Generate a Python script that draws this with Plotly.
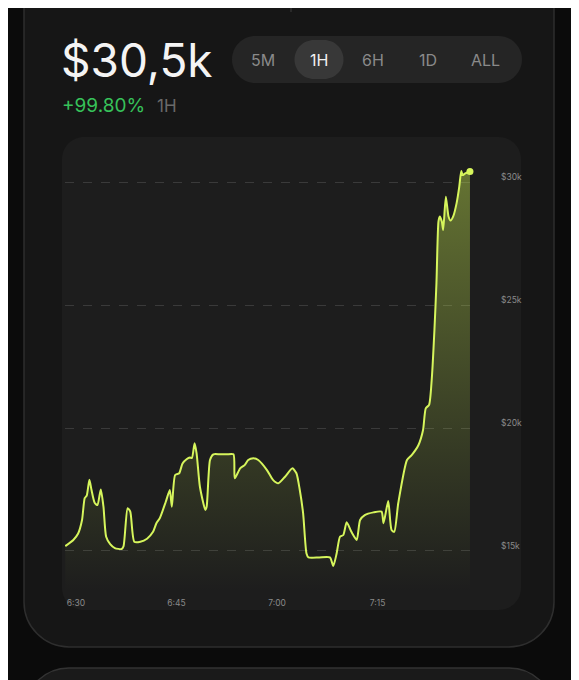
import plotly.graph_objects as go

# ---------------- data ----------------
minutes_after_6 = [28.4, 29.6, 30.3, 30.9, 31.3, 31.6, 32.0, 32.3, 32.8, 33.2, 33.7, 34.1, 34.5, 35.1, 35.8,
                   36.8, 37.1, 37.7, 38.1, 38.7, 39.6, 40.6, 41.5, 42.0, 42.5, 43.4, 44.0, 44.3, 44.8, 45.4,
                   45.9, 46.5, 47.0, 47.3, 47.7, 48.0, 48.5, 49.3, 49.5, 50.0, 50.5, 51.5, 52.5, 53.5, 53.7,
                   54.5, 55.2, 55.7, 56.5, 57.2, 58.5, 59.4, 60.2, 61.2, 62.3, 62.9, 63.4, 63.9, 64.4, 64.7,
                   66.3, 67.9, 68.4, 68.9, 69.4, 69.9, 70.4, 71.1, 71.9, 72.4, 73.1, 74.4, 75.6, 75.9, 76.6,
                   77.1, 77.5, 78.1, 79.4, 80.1, 81.1, 81.8, 82.2, 82.7, 83.1, 83.5, 83.8, 84.1, 84.3, 84.6,
                   84.8, 85.2, 85.6, 85.9, 86.3, 86.8, 87.2, 87.5, 87.7, 88.1, 88.8]
values_usd = [15200, 15450, 15700, 16260, 17150, 17250, 17900, 17500, 16950, 16870, 17500, 16800, 15580, 15280, 15120,
              15080, 15200, 16740, 16600, 15380, 15380, 15500, 15780, 16130, 16330, 17000, 17480, 16800, 18090, 18160,
              18560, 18730, 18800, 18780, 19380, 18970, 17600, 16670, 16800, 18700, 18930, 18930, 18930, 18930, 17960,
              18360, 18500, 18700, 18770, 18700, 18290, 17890, 17750, 18020, 18360, 18160, 17480, 16530, 14900, 14740,
              14740, 14740, 14390, 14900, 15580, 15650, 16170, 15780, 15450, 16260, 16460, 16570, 16600, 16130, 17030,
              15850, 15780, 16950, 18700, 18900, 19300, 19920, 20800, 20940, 22000, 24000, 25900, 28400, 28600, 28390,
              28050, 29400, 28600, 28430, 28600, 29130, 29800, 30450, 30280, 30350, 30430]

x_tick_vals = [30, 45, 60, 75]
x_tick_text = ["6:30", "6:45", "7:00", "7:15"]
y_tick_vals = [15000, 20000, 25000, 30000]
y_tick_text = ["$15k", "$20k", "$25k", "$30k"]

price_label = "$30,5k"
change_label = "+99.80%"
period_label = "1H"
range_buttons = ["5M", "1H", "6H", "1D", "ALL"]
selected_button = "1H"

# ---------------- layout geometry (window pixels) ----------------
W, H = 579, 680
OFF = 8  # page body margin
PL, PR, PT, PB = 65, 470, 150, 592
x_range = [28.358, 88.806]
y_range = [13333, 31301]

LINE = "#d6f55c"
FONT = "Inter"


def px(x):
    return (x - PL) / (PR - PL)


def py(y):
    return (PB - y) / (PB - PT)


def rrect(x0, y0, x1, y1, r):
    k = 0.5523 * r
    pts = [
        f"M{px(x0 + r)},{py(y0)}",
        f"L{px(x1 - r)},{py(y0)}",
        f"C{px(x1 - r + k)},{py(y0)} {px(x1)},{py(y0 + r - k)} {px(x1)},{py(y0 + r)}",
        f"L{px(x1)},{py(y1 - r)}",
        f"C{px(x1)},{py(y1 - r + k)} {px(x1 - r + k)},{py(y1)} {px(x1 - r)},{py(y1)}",
        f"L{px(x0 + r)},{py(y1)}",
        f"C{px(x0 + r - k)},{py(y1)} {px(x0)},{py(y1 - r + k)} {px(x0)},{py(y1 - r)}",
        f"L{px(x0)},{py(y0 + r)}",
        f"C{px(x0)},{py(y0 + r - k)} {px(x0 + r - k)},{py(y0)} {px(x0 + r)},{py(y0)}",
        "Z",
    ]
    return " ".join(pts)


fig = go.Figure()

fig.add_trace(go.Scatter(
    x=minutes_after_6, y=values_usd, mode="lines",
    line=dict(color=LINE, width=2, shape="spline", smoothing=0.6),
    fill="tozeroy",
    fillgradient=dict(type="vertical", start=y_range[0], stop=30500,
                      colorscale=[[0, "rgba(200,235,80,0.0)"], [1, "rgba(200,235,80,0.42)"]]),
    hoverinfo="skip", showlegend=False,
))
fig.add_trace(go.Scatter(
    x=[minutes_after_6[-1]], y=[values_usd[-1]], mode="markers",
    marker=dict(color=LINE, size=7), cliponaxis=False,
    hoverinfo="skip", showlegend=False,
))

shapes = []
# top edge + small divider
shapes.append(dict(type="line", xref="paper", yref="paper", x0=px(-20), x1=px(W + 20), y0=py(0.5), y1=py(0.5),
                   line=dict(color="#4a4a4a", width=1), layer="below"))
# main card
shapes.append(dict(type="path", xref="paper", yref="paper", path=rrect(24, -60, 554, 647, 45),
                   fillcolor="#161616", line=dict(color="#2e2e2e", width=1.5), layer="below"))
shapes.append(dict(type="line", xref="paper", yref="paper", x0=px(291), x1=px(291), y0=py(0), y1=py(12),
                   line=dict(color="#3c3c3c", width=1), layer="below"))
# second card
shapes.append(dict(type="path", xref="paper", yref="paper", path=rrect(24, 668, 554, 760, 45),
                   fillcolor="#1a1a1a", line=dict(color="#333333", width=1.5), layer="below"))
# chart panel
shapes.append(dict(type="path", xref="paper", yref="paper", path=rrect(62, 137, 521, 610, 22),
                   fillcolor="#1d1d1d", line=dict(width=0), layer="below"))
# range selector pill
shapes.append(dict(type="path", xref="paper", yref="paper", path=rrect(232, 36, 522, 83, 23.5),
                   fillcolor="#252525", line=dict(width=0), layer="below"))
btn_x = [263, 319, 373, 428, 486]
sel_i = range_buttons.index(selected_button)
shapes.append(dict(type="path", xref="paper", yref="paper",
                   path=rrect(btn_x[sel_i] - 24.5, 40, btn_x[sel_i] + 24.5, 79, 19.5),
                   fillcolor="#383838", line=dict(width=0), layer="below"))

annotations = []
annotations.append(dict(text=price_label, x=px(59), y=py(60), xref="paper", yref="paper",
                        xanchor="left", yanchor="middle", showarrow=False,
                        font=dict(family=FONT, size=46, color="#f4f4f4")))
annotations.append(dict(text=change_label, x=px(60), y=py(106), xref="paper", yref="paper",
                        xanchor="left", yanchor="middle", showarrow=False,
                        font=dict(family=FONT, size=19, color="#37c25a")))
annotations.append(dict(text=period_label, x=px(155), y=py(106), xref="paper", yref="paper",
                        xanchor="left", yanchor="middle", showarrow=False,
                        font=dict(family=FONT, size=17, color="#6a6a6a")))
for i, (lab, bx) in enumerate(zip(range_buttons, btn_x)):
    annotations.append(dict(text=lab, x=px(bx), y=py(60), xref="paper", yref="paper",
                            xanchor="center", yanchor="middle", showarrow=False,
                            font=dict(family=FONT, size=16,
                                      color="#f0f0f0" if i == sel_i else "#8a8a8a")))

fig.update_layout(
    width=W - OFF, height=H - OFF,
    margin=dict(l=PL - OFF, r=W - PR, t=PT - OFF, b=H - PB, pad=0),
    paper_bgcolor="#0b0b0b", plot_bgcolor="rgba(0,0,0,0)",
    shapes=shapes, annotations=annotations,
    showlegend=False,
    xaxis=dict(range=x_range, tickvals=x_tick_vals, ticktext=x_tick_text, showgrid=False,
               zeroline=False, showline=False, ticks="", ticklabelstandoff=4,
               tickfont=dict(family=FONT, size=8.5, color="#8a8a8a"), fixedrange=True),
    yaxis=dict(range=y_range, tickvals=y_tick_vals, ticktext=y_tick_text, side="right",
               showgrid=True, gridcolor="#3a3a3a", griddash="dash", gridwidth=1,
               zeroline=False, showline=False, ticks="", ticklabelstandoff=30, ticklabelshift=-5,
               tickfont=dict(family=FONT, size=8.5, color="#8a8a8a"), fixedrange=True),
)

fig.write_html("out.html")
